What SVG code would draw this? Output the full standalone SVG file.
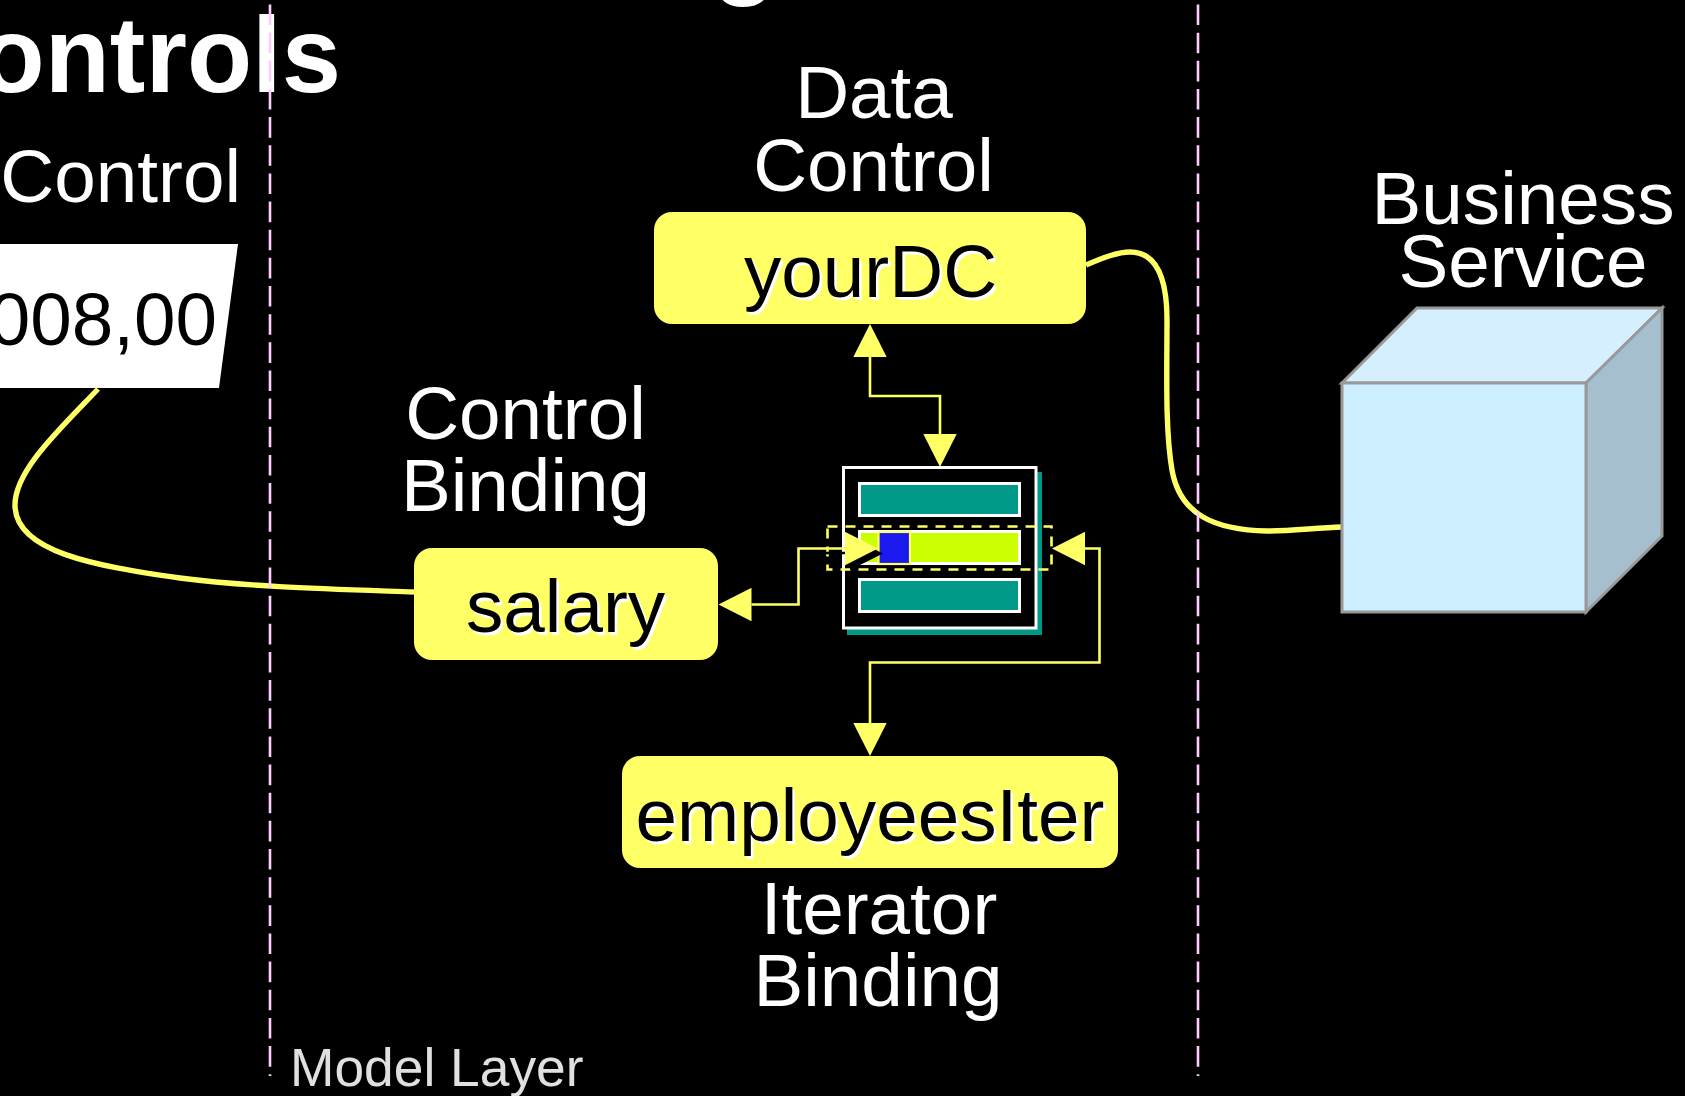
<svg xmlns="http://www.w3.org/2000/svg" width="1685" height="1096" viewBox="0 0 1685 1096">
  <style>
    text { font-family: "Liberation Sans", Arial, sans-serif; }
    .title { font-size: 106.67px; font-weight: bold; fill: #ffffff; }
    .lbl { font-size: 74.67px; fill: #ffffff; text-anchor: middle; }
    .box { fill: #ffff66; }
    .val { font-size: 74.67px; fill: #000000; }
    .val-s { font-size: 74.67px; fill: #ffffff; }
    .curve { fill: none; stroke: #ffff66; stroke-width: 5.4; }
    .thin { fill: none; stroke: #ffff66; stroke-width: 2.6; }
    .guide { fill: none; stroke: #ffccff; stroke-width: 2.6; stroke-dasharray: 20.6 7.55; }
    .row { stroke: #ffffff; stroke-width: 3; }
  </style>
  <defs>
    <marker id="head" markerUnits="userSpaceOnUse" markerWidth="34" markerHeight="34" refX="0" refY="17" orient="auto-start-reverse">
      <path d="M0,0.3 L33,17 L0,33.7 Z" fill="#ffff66"/>
    </marker>
  </defs>
  <rect width="1685" height="1096" fill="#000000"/>

  <text class="title" x="712" y="-15">g</text>
  <text class="title" x="341" y="92" text-anchor="end">ontrols</text>

  <g id="control-widget">
    <text class="lbl" x="241" y="202" style="text-anchor:end">Control</text>
    <polygon points="-5,244 238,244 219,388 -5,388" fill="#ffffff"/>
    <text class="val" x="217" y="345" text-anchor="end">008,00</text>
  </g>

  <g id="connectors">
    <path class="curve" d="M98,389 C61,428 15,470 15,505 C15,552 95,566 180,578 C250,587 330,589 414,592"/>
    <path class="curve" d="M1086,265 C1105,257 1118,252 1130,252 C1158,252 1167,280 1167,320 C1167,370 1165,430 1172,470 C1180,515 1215,530 1267,531 C1290,531 1315,528 1342,527"/>
  </g>

  <g id="data-control">
    <text class="lbl" x="874" y="118">Data</text>
    <text class="lbl" x="873.5" y="191">Control</text>
    <rect class="box" x="654" y="212" width="432" height="112" rx="18"/>
    <text class="val-s" x="746.5" y="299.5">yourDC</text>
    <text class="val" x="744" y="297">yourDC</text>
  </g>

  <g id="control-binding">
    <text class="lbl" x="525.5" y="438.5">Control</text>
    <text class="lbl" x="525.5" y="510.5">Binding</text>
    <rect class="box" x="414" y="548" width="304" height="112" rx="18"/>
    <text class="val-s" x="468.5" y="634.5">salary</text>
    <text class="val" x="466" y="632">salary</text>
  </g>

  <g id="iterator-binding">
    <rect class="box" x="622" y="756" width="496" height="112" rx="18"/>
    <text class="val-s" x="638" y="843.5">employeesIter</text>
    <text class="val" x="635.5" y="841">employeesIter</text>
    <text class="lbl" x="879" y="934">Iterator</text>
    <text class="lbl" x="878" y="1006">Binding</text>
  </g>

  <g id="rowset">
    <rect x="847" y="472" width="195" height="163" fill="#009987"/>
    <rect x="843.5" y="467.5" width="192.5" height="160.5" fill="#000000" stroke="#ffffff" stroke-width="3"/>
    <rect class="row" x="859.5" y="483.5" width="160" height="32" fill="#009987"/>
    <rect class="row" x="859.5" y="531.5" width="160" height="32" fill="#ccff00"/>
    <rect class="row" x="859.5" y="579.5" width="160" height="32" fill="#009987"/>
    <rect x="878.5" y="532" width="31.5" height="32" fill="#1a1aee" stroke="#ffff66" stroke-width="2.2"/>
    <rect x="827.5" y="526.5" width="224" height="43" fill="none" stroke="#ffff66" stroke-width="2.6" stroke-dasharray="10 8"/>
  </g>

  <g id="arrows">
    <polygon points="850,537 883,553.5 850,570" fill="#000000"/>
    <path d="M800,553 H850" stroke="#000000" stroke-width="2.6" fill="none"/>
    <path class="thin" d="M870,357 V396 H940 V434" marker-start="url(#head)" marker-end="url(#head)"/>
    <path class="thin" d="M845,548.5 H798.5 V604.5 H751.5" marker-start="url(#head)" marker-end="url(#head)"/>
    <path class="thin" d="M1085,548.5 H1099.5 V662.5 H870 V723" marker-start="url(#head)" marker-end="url(#head)"/>
  </g>

  <g id="business-service">
    <text class="lbl" x="1523" y="223.5">Business</text>
    <text class="lbl" x="1523" y="287">Service</text>
    <polygon points="1342,383 1417,308 1662,308 1586,383" fill="#d6efff" stroke="#999999" stroke-width="3"/>
    <polygon points="1586,383 1662,308 1662,536 1586,612" fill="#a6bfcf" stroke="#999999" stroke-width="3"/>
    <rect x="1342" y="383" width="244" height="229" fill="#cceeff" stroke="#999999" stroke-width="3"/>
  </g>

  <g id="layer-guides">
    <path class="guide" d="M270,4.5 V1076"/>
    <path class="guide" d="M1198,4.5 V1076"/>
  </g>
  <text x="290" y="1086" font-size="53.33" fill="#e0e0e0">Model Layer</text>
</svg>
